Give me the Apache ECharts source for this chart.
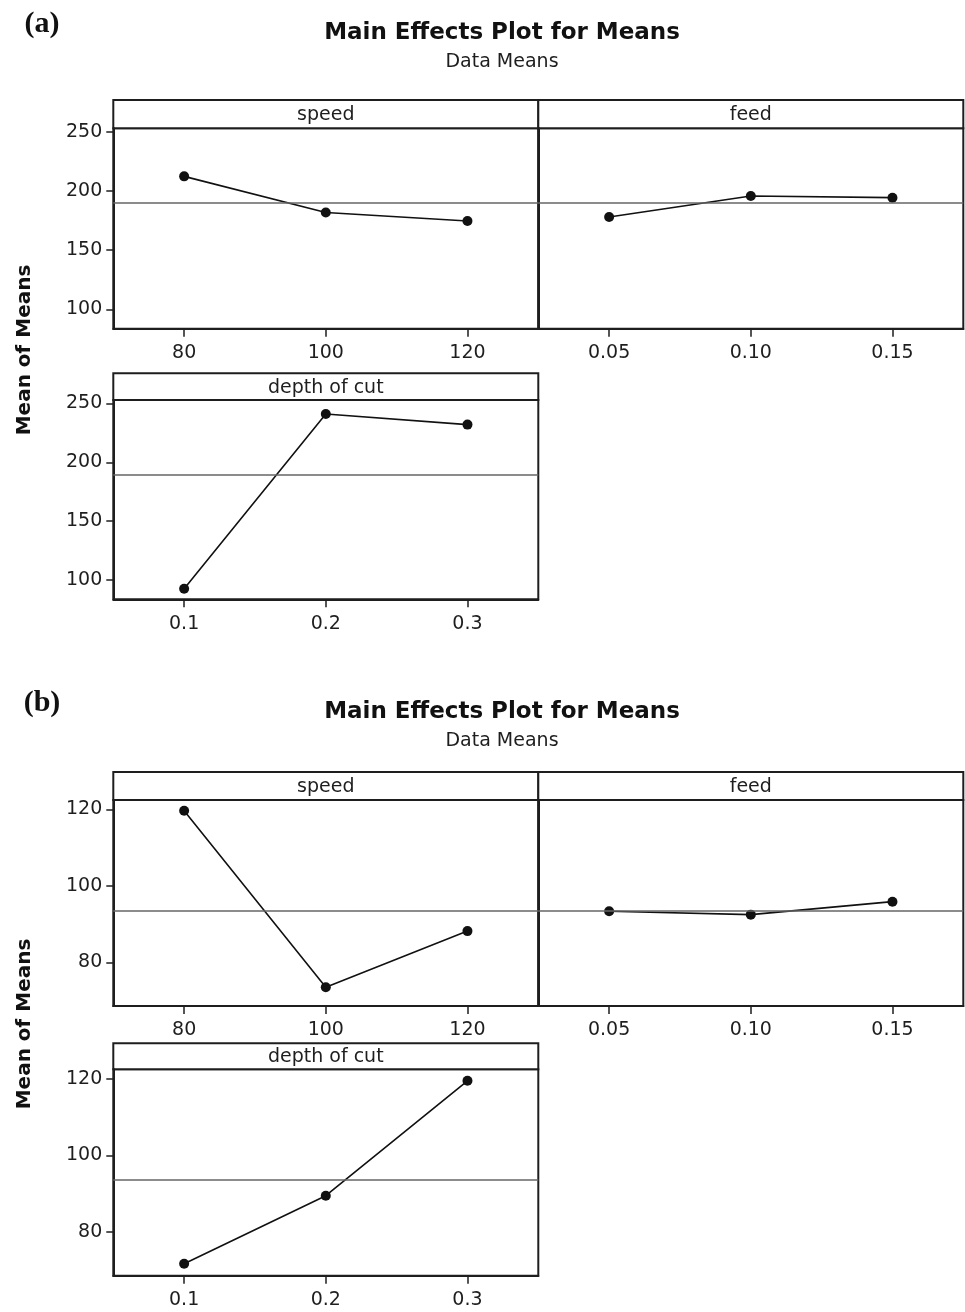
<!DOCTYPE html>
<html>
<head>
<meta charset="utf-8">
<title>Main Effects Plot for Means</title>
<script src="https://cdn.jsdelivr.net/npm/echarts@6/dist/echarts.min.js"></script>
<style>
  html, body { margin: 0; padding: 0; background: #fff; }
  #main { width: 965px; height: 1312px; }
</style>
</head>
<body>
<div id="main"></div>
<script>
// factor names and their levels
var factors = ['speed', 'feed', 'depth of cut'];
var speedLevels = [80, 100, 120];
var feedLevels = [0.05, 0.10, 0.15];
var depthLevels = [0.1, 0.2, 0.3];

// tick labels
var speedTicks = ['80', '100', '120'];
var feedTicks = ['0.05', '0.10', '0.15'];
var depthTicks = ['0.1', '0.2', '0.3'];
var aYTicks = [100, 150, 200, 250];
var bYTicks = [80, 100, 120];

// (a) means
var aSpeed = [212.3, 181.8, 174.6];
var aFeed = [178.0, 195.7, 194.3];
var aDepth = [92.6, 241.0, 232.0];
var aMean = 189.7;

// (b) means
var bSpeed = [119.7, 73.5, 88.2];
var bFeed = [93.4, 92.5, 95.9];
var bDepth = [71.7, 89.5, 119.5];
var bMean = 93.6;

var myChart = echarts.init(document.getElementById('main'));

var FONT = 'DejaVu Sans';
var INK = '#1e1e1e';

// layout of the panels
var colLeft = [113.3, 538.3];
var colWidth = 425;
var panels = [
  { levels: speedLevels, ticks: speedTicks, vals: aSpeed, mean: aMean, yTicks: aYTicks, ymin: 83.6, ymax: 252.9, xmin: 70, xmax: 130, name: factors[0], col: 0, head: 100, top: 128.3, bottom: 328.7 },
  { levels: feedLevels, ticks: feedTicks, vals: aFeed, mean: aMean, yTicks: aYTicks, ymin: 83.6, ymax: 252.9, xmin: 0.025, xmax: 0.175, name: factors[1], col: 1, head: 100, top: 128.3, bottom: 328.7 },
  { levels: depthLevels, ticks: depthTicks, vals: aDepth, mean: aMean, yTicks: aYTicks, ymin: 83.6, ymax: 252.9, xmin: 0.05, xmax: 0.35, name: factors[2], col: 0, head: 373.3, top: 400, bottom: 599.3 },
  { levels: speedLevels, ticks: speedTicks, vals: bSpeed, mean: bMean, yTicks: bYTicks, ymin: 68.6, ymax: 122.5, xmin: 70, xmax: 130, name: factors[0], col: 0, head: 772, top: 800, bottom: 1006 },
  { levels: feedLevels, ticks: feedTicks, vals: bFeed, mean: bMean, yTicks: bYTicks, ymin: 68.6, ymax: 122.5, xmin: 0.025, xmax: 0.175, name: factors[1], col: 1, head: 772, top: 800, bottom: 1006 },
  { levels: depthLevels, ticks: depthTicks, vals: bDepth, mean: bMean, yTicks: bYTicks, ymin: 68.6, ymax: 122.5, xmin: 0.05, xmax: 0.35, name: factors[2], col: 0, head: 1043.3, top: 1069.3, bottom: 1275.7 }
];

var grids = [], xAxes = [], yAxes = [], series = [], graphics = [];

panels.forEach(function (p, i) {
  var left = colLeft[p.col];
  grids.push({
    left: left, top: p.top, width: colWidth, height: p.bottom - p.top,
    show: true, borderColor: INK, borderWidth: 2, backgroundColor: 'transparent'
  });
  xAxes.push({
    gridIndex: i, type: 'value', min: p.xmin, max: p.xmax,
    axisLine: { show: true, onZero: false, lineStyle: { color: INK, width: 2 } },
    axisTick: { show: true, length: 8, customValues: p.levels, lineStyle: { color: INK, width: 1.5 } },
    axisLabel: {
      customValues: p.levels, margin: 15, fontSize: 19, fontFamily: FONT, color: INK,
      formatter: (function (lv, tk) {
        return function (v) {
          for (var k = 0; k < lv.length; k++) { if (Math.abs(lv[k] - v) < 1e-9) return tk[k]; }
          return '';
        };
      })(p.levels, p.ticks)
    },
    splitLine: { show: false }
  });
  var showY = p.col === 0;
  yAxes.push({
    gridIndex: i, type: 'value', min: p.ymin, max: p.ymax,
    axisLine: { show: true, lineStyle: { color: INK, width: 2 } },
    axisTick: { show: showY, length: 7, customValues: p.yTicks, lineStyle: { color: INK, width: 1.5 } },
    axisLabel: { show: showY, customValues: p.yTicks, margin: 11, fontSize: 19, fontFamily: FONT, color: INK },
    splitLine: { show: false }
  });
  series.push({
    type: 'line', xAxisIndex: i, yAxisIndex: i,
    data: p.levels.map(function (lv, k) { return [lv, p.vals[k]]; }),
    symbol: 'circle', symbolSize: 10, showSymbol: true,
    lineStyle: { color: '#111', width: 1.6 },
    itemStyle: { color: '#111' },
    markLine: {
      silent: true, symbol: 'none', label: { show: false },
      lineStyle: { color: '#666', width: 1.5, type: 'solid' },
      data: [{ yAxis: p.mean }]
    },
    z: 3
  });
  // header strip
  graphics.push({
    type: 'rect',
    shape: { x: left, y: p.head, width: colWidth, height: p.top - p.head },
    style: { fill: '#fff', stroke: INK, lineWidth: 2 }
  });
  graphics.push({
    type: 'text', x: left + colWidth / 2, y: (p.head + p.top) / 2 + 1,
    style: { text: p.name, font: '19px "DejaVu Sans"', fill: INK, align: 'center', verticalAlign: 'middle' }
  });
});

// titles and labels
[{ tag: '(a)', y: 0, mid: 350 }, { tag: '(b)', y: 679, mid: 1024 }].forEach(function (f) {
  graphics.push({
    type: 'text', x: 42, y: f.y + 24,
    style: { text: f.tag, font: 'bold 30px "Liberation Serif"', fill: '#111', align: 'center', verticalAlign: 'middle' }
  });
  graphics.push({
    type: 'text', x: 502, y: f.y + 33,
    style: { text: 'Main Effects Plot for Means', font: 'bold 23px "DejaVu Sans"', fill: '#111', align: 'center', verticalAlign: 'middle' }
  });
  graphics.push({
    type: 'text', x: 502, y: f.y + 62,
    style: { text: 'Data Means', font: '19px "DejaVu Sans"', fill: INK, align: 'center', verticalAlign: 'middle' }
  });
  graphics.push({
    type: 'text', x: 25, y: f.mid, rotation: Math.PI / 2,
    style: { text: 'Mean of Means', font: 'bold 20px "DejaVu Sans"', fill: '#111', align: 'center', verticalAlign: 'middle' }
  });
});

var option = {
  animation: false,
  backgroundColor: '#fff',
  grid: grids,
  xAxis: xAxes,
  yAxis: yAxes,
  series: series,
  graphic: graphics
};

myChart.setOption(option);
</script>
</body>
</html>
